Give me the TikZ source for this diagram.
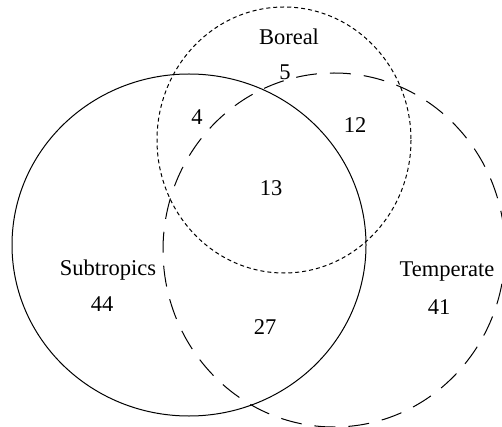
\documentclass[tikz,border=0pt]{standalone}
\usepackage{fontspec}
\setmainfont{Liberation Serif}

\tikzset{
  lbl/.style={font=\fontsize{22.5}{26}\selectfont, inner sep=0pt},
  subtropring/.style={line width=1pt},
  borealring/.style={line width=1pt, dash pattern=on 4pt off 3pt},
  temperatering/.style={line width=1pt, dash pattern=on 21pt off 13pt},
}

\begin{document}
\begin{tikzpicture}[x=1pt,y=-1pt]
\useasboundingbox (0,0) rectangle (502,427);
\clip (0,0) rectangle (502,427);

% centres of the three sets
\coordinate (sub) at (189,245);
\coordinate (bor) at (284,140);
\coordinate (tem) at (334,250);

\draw[subtropring] (sub) ellipse [x radius=177, y radius=171];
\draw[borealring] (bor) ellipse [x radius=127, y radius=133];
\draw[temperatering] (tem) ellipse [x radius=171, y radius=177];

% labels and counts
\node[lbl] (borname) at (289,37) {Boreal};
\node[lbl] (boronly) at (285,72) {5};
\node[lbl] (subbor) at (197,117) {4};
\node[lbl] (bortem) at (355,125) {12};
\node[lbl] (all) at (271,188) {13};
\node[lbl] (subname) at (108,270) {Subtropics};
\node[lbl] (subonly) at (102,304) {44};
\node[lbl] (subtem) at (265,327) {27};
\node[lbl] (temname) at (447,272) {Temperate};
\node[lbl] (temonly) at (439,307) {41};
\end{tikzpicture}
\end{document}
